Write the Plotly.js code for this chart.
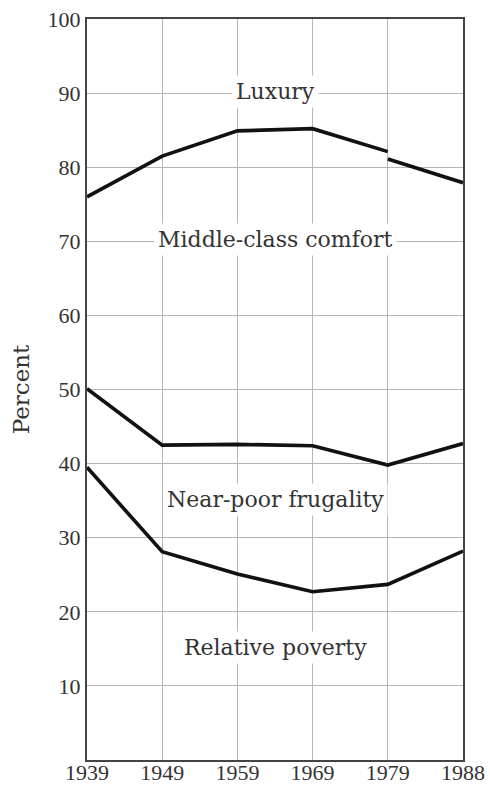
<!DOCTYPE html>
<html>
<head>
<meta charset="utf-8">
<script src="https://cdn.plot.ly/plotly-3.0.1.min.js"></script>
<style>html,body{margin:0;padding:0;background:#fff;}#chart{width:490px;height:790px;}</style>
</head>
<body>
<div id="chart"></div>
<script>
var years = ['1939', '1949', '1959', '1969', '1979', '1988'];
var luxuryLowerEarly = [76.0, 81.5, 84.9, 85.2, 82.1];
var luxuryLowerLate = [81.1, 77.9];
var middleLower = [50.1, 42.5, 42.6, 42.4, 39.8, 42.7];
var nearPoorLower = [39.5, 28.1, 25.1, 22.7, 23.7, 28.2];
var bandLabels = ['Luxury', 'Middle-class comfort', 'Near-poor frugality', 'Relative poverty'];
var bandLabelY = [90.2, 70.2, 35.2, 15.2];
var yTicks = [10, 20, 30, 40, 50, 60, 70, 80, 90, 100];

var idx = years.map(function (_, i) { return i; });
var lineStyle = {color: '#111', width: 3.6};
var traces = [
  {x: idx.slice(0, 5), y: luxuryLowerEarly, mode: 'lines', line: lineStyle, hoverinfo: 'none'},
  {x: idx.slice(4, 6), y: luxuryLowerLate, mode: 'lines', line: lineStyle, hoverinfo: 'none'},
  {x: idx, y: middleLower, mode: 'lines', line: lineStyle, hoverinfo: 'none'},
  {x: idx, y: nearPoorLower, mode: 'lines', line: lineStyle, hoverinfo: 'none'}
];

var tickFont = {family: 'Liberation Serif, serif', size: 22, color: '#333'};
var labelFont = {family: 'DejaVu Serif, serif', size: 22, color: '#333'};
var titleFont = {family: 'DejaVu Serif, serif', size: 23, color: '#333'};
var annotations = bandLabels.map(function (t, i) {
  return {x: 2.5, y: bandLabelY[i], xref: 'x', yref: 'y', text: t, showarrow: false,
    bgcolor: '#fff', borderpad: 3, font: labelFont};
});

var layout = {
  width: 490, height: 790,
  margin: {l: 87, r: 27, t: 19, b: 30},
  paper_bgcolor: '#fff', plot_bgcolor: '#fff',
  showlegend: false,
  font: tickFont,
  xaxis: {
    range: [0, 5], tickvals: idx, ticktext: years, showgrid: true,
    gridcolor: '#b5b5b5', gridwidth: 1, zeroline: false,
    showline: true, linecolor: '#444', linewidth: 2, mirror: true,
    ticks: '', tickfont: tickFont, ticklabelstandoff: -8
  },
  yaxis: {
    range: [0, 100], tickvals: yTicks, showgrid: true,
    gridcolor: '#b5b5b5', gridwidth: 1, zeroline: false,
    showline: true, linecolor: '#444', linewidth: 2, mirror: true,
    ticks: '', tickfont: tickFont,
    title: {text: 'Percent', font: titleFont, standoff: 12}
  },
  annotations: annotations
};

Plotly.newPlot('chart', traces, layout, {displayModeBar: false, staticPlot: true});
</script>
</body>
</html>
